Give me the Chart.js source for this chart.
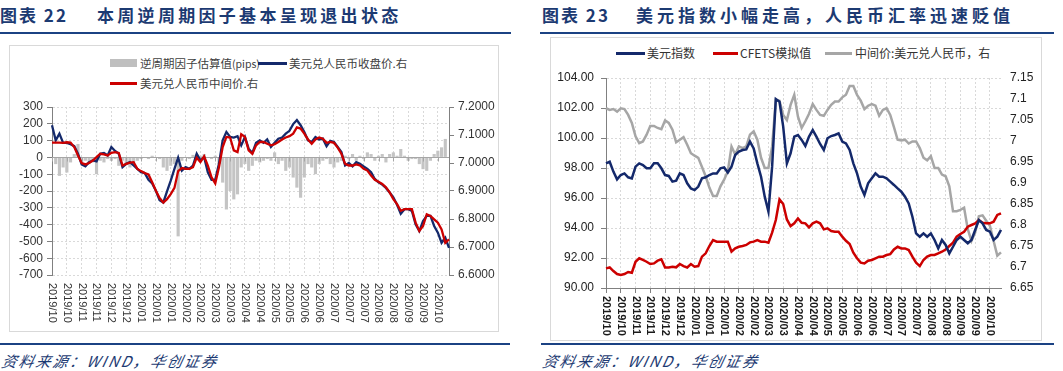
<!DOCTYPE html>
<html><head><meta charset="utf-8">
<script src="https://cdn.jsdelivr.net/npm/chart.js@4/dist/chart.umd.min.js"></script>
<style>
html,body{margin:0;padding:0;background:#fff;width:1063px;height:371px;overflow:hidden;font-family:"Noto Sans CJK SC","Liberation Sans",sans-serif;}
.a{position:absolute;white-space:nowrap;}
.title{font-family:"Noto Sans CJK SC",sans-serif;font-weight:bold;font-size:17px;line-height:20px;color:#1c3a72;}
.rule{background:#1b4283;height:2px;}
.box{border:1px solid #d9d9d9;box-sizing:border-box;}
.src{font-family:"Noto Sans CJK SC",sans-serif;font-style:italic;font-size:15px;line-height:18px;letter-spacing:2px;color:#1c3a72;transform:skewX(-12deg);transform-origin:left bottom;}
.leg{font-size:12px;line-height:16px;color:#404040;}
canvas{position:absolute;}
</style></head>
<body>
<div class="a title" style="left:0;top:5px;letter-spacing:2px;">图表 22</div>
<div class="a title" style="left:97px;top:5px;letter-spacing:3.3px;">本周逆周期因子基本呈现退出状态</div>
<div class="a rule" style="left:0;top:32px;width:511px;"></div>
<div class="a title" style="left:542px;top:5px;letter-spacing:2px;">图表 23</div>
<div class="a title" style="left:636px;top:5px;letter-spacing:4px;">美元指数小幅走高，人民币汇率迅速贬值</div>
<div class="a rule" style="left:540px;top:32px;width:514px;"></div>

<div class="a box" style="left:9px;top:45px;width:490px;height:287px;"></div>
<div class="a box" style="left:550px;top:37px;width:492px;height:304px;"></div>

<div class="a" style="left:110px;top:59px;width:27px;height:8px;background:#bfbfbf;"></div>
<div class="a leg" style="left:140px;top:55px;font-size:11.5px;">逆周期因子估算值<span style="font-size:10.5px;">(pips)</span></div>
<div class="a" style="left:258px;top:62px;width:29px;height:2.5px;background:#14296b;"></div>
<div class="a leg" style="left:289px;top:55px;font-size:11.5px;">美元兑人民币收盘价.右</div>
<div class="a" style="left:110px;top:82px;width:27px;height:2.5px;background:#cc0000;"></div>
<div class="a leg" style="left:140px;top:75px;font-size:11.5px;">美元兑人民币中间价.右</div>

<div class="a" style="left:616px;top:52px;width:29px;height:2.5px;background:#14296b;"></div>
<div class="a leg" style="left:647px;top:45px;color:#333;">美元指数</div>
<div class="a" style="left:713px;top:52px;width:25px;height:2.5px;background:#cc0000;"></div>
<div class="a leg" style="left:740px;top:45px;color:#333;">CFETS模拟值</div>
<div class="a" style="left:825px;top:52px;width:27px;height:2.5px;background:#a6a6a6;"></div>
<div class="a leg" style="left:855px;top:45px;color:#333;">中间价:美元兑人民币，右</div>

<canvas id="c1" width="490" height="287" style="left:9px;top:45px;"></canvas>
<canvas id="c2" width="492" height="304" style="left:550px;top:37px;"></canvas>

<div class="a rule" style="left:0;top:343px;width:510px;"></div>
<div class="a rule" style="left:541px;top:343px;width:513px;"></div>
<div class="a src" style="left:0;top:352px;">资料来源：WIND，华创证券</div>
<div class="a src" style="left:541px;top:352px;">资料来源：WIND，华创证券</div>

<script>
// ---- data ----
const tickLabels = ['2019/10','2019/10','2019/11','2019/11','2019/12','2019/12','2020/01','2020/01','2020/01','2020/02','2020/02','2020/03','2020/03','2020/04','2020/04','2020/05','2020/05','2020/06','2020/06','2020/07','2020/07','2020/07','2020/08','2020/08','2020/09','2020/09','2020/10'];
const pointsPerTick = 4;

// Chart 22
const ccfPips = [0,-40,-110,-60,-90,-30,20,80,-30,-20,
 -40,-30,-100,-20,-30,-10,-20,-10,-50,-20,
 -40,-60,-30,-20,-10,0,-10,10,0,-10,
 -60,-80,-50,-40,-470,-20,0,-10,15,20,
 10,20,0,-10,10,-40,-150,-310,-200,-250,
 -220,-60,-40,-80,-50,-20,-30,-20,-10,-20,
 30,-40,-20,-80,-60,-120,-180,-240,-120,-40,
 -60,-100,-40,-20,-10,-40,-60,-30,-20,10,
 -10,20,-20,10,-10,30,20,-20,10,20,
 -30,20,30,10,50,10,-20,-10,-10,-40,
 -70,-80,-20,20,40,60,110,0];
const usdCnyClose = [7.135,7.081,7.105,7.072,7.072,7.067,7.060,7.033,6.995,6.988,
 7.003,7.009,7.006,7.033,7.036,7.027,7.057,7.043,7.033,6.985,
 6.997,7.003,6.991,6.979,6.967,6.964,6.940,6.927,6.901,6.867,
 6.859,6.899,6.937,6.979,7.019,6.973,6.985,6.979,6.991,7.033,
 7.009,7.021,6.967,6.940,6.940,6.997,7.081,7.111,7.093,7.091,
 7.096,7.063,7.093,7.051,7.036,7.072,7.081,7.072,7.084,7.057,
 7.072,7.087,7.091,7.105,7.115,7.139,7.153,7.135,7.111,7.081,
 7.075,7.093,7.084,7.087,7.060,7.079,7.075,7.057,7.039,6.991,
 7.000,6.988,7.003,6.997,6.988,6.979,6.967,6.943,6.931,6.923,
 6.911,6.895,6.877,6.851,6.819,6.835,6.835,6.829,6.781,6.757,
 6.793,6.811,6.811,6.775,6.751,6.715,6.733,6.697];
const usdCnyMid = [7.073,7.073,7.073,7.072,7.074,7.073,7.057,7.027,7.000,6.995,
 7.000,7.009,7.021,7.033,7.031,7.027,7.036,7.039,7.036,6.991,
 6.997,7.001,7.003,6.979,6.971,6.964,6.959,6.931,6.901,6.875,
 6.859,6.871,6.889,6.911,6.971,6.982,6.979,6.979,6.985,7.019,
 7.003,7.024,6.991,6.949,6.927,6.985,7.057,7.093,7.091,7.045,
 7.039,7.103,7.093,7.045,7.033,7.063,7.075,7.075,7.069,7.063,
 7.067,7.075,7.084,7.091,7.096,7.105,7.127,7.123,7.105,7.084,
 7.069,7.084,7.091,7.087,7.072,7.075,7.072,7.055,7.033,6.997,
 6.991,6.991,6.995,6.991,6.979,6.973,6.955,6.940,6.933,6.925,
 6.913,6.895,6.871,6.853,6.829,6.835,6.835,6.835,6.787,6.757,
 6.775,6.817,6.811,6.799,6.787,6.763,6.715,6.727];

// Chart 23
const dxy = [98.31,98.42,97.76,97.24,97.53,97.64,97.38,97.31,98.09,98.31,
 98.2,97.98,97.98,98.31,98.31,97.98,97.53,97.47,97.09,97.16,
 97.64,97.53,96.98,96.64,96.53,96.76,97.31,97.38,97.53,97.64,
 97.64,97.98,98.04,97.7,98.09,98.87,99.09,99.2,99.24,99.76,
 99.31,98.31,97.42,96.09,95.1,98.09,102.6,102.42,100.76,98.31,
 98.98,100.09,100.2,99.87,99.47,100.09,100.53,100.09,99.6,99.2,
 99.98,100.13,100.2,100.31,99.76,99.64,99.2,98.31,97.64,96.76,
 96.2,96.98,97.31,97.64,97.42,97.42,97.31,97.09,96.87,96.64,
 96.42,96.09,95.64,94.75,93.64,93.42,93.64,93.42,93.64,93.2,
 92.64,93.2,92.87,92.31,92.75,93.2,93.42,93.2,92.98,93.2,
 93.87,94.53,94.31,93.87,93.75,93.2,93.42,93.87];
const cfets = [91.31,91.37,91.13,90.93,90.87,90.93,91.07,91.02,91.75,91.98,
 91.87,91.75,91.6,91.64,91.82,91.91,91.37,91.37,91.42,91.38,
 91.6,91.46,91.37,91.6,91.42,91.46,92.09,92.31,92.8,93.2,
 93.09,93.09,93.09,93.09,92.42,92.64,92.75,92.8,92.87,93.04,
 93.09,93.2,93.09,93.09,93.02,93.69,94.53,95.9,95.6,94.57,
 94.13,94.31,94.64,94.35,94.31,94.04,94.31,94.42,94.31,93.91,
 93.98,93.8,93.75,93.75,93.42,93.15,92.93,92.35,91.98,91.69,
 91.64,91.82,91.87,91.98,92.09,92.09,92.2,92.26,92.57,92.75,
 92.64,92.64,92.53,92.09,91.69,91.46,91.87,92.09,92.2,92.2,
 92.31,92.42,92.57,92.8,93.02,93.42,93.6,93.75,94.09,94.2,
 94.31,94.53,94.35,94.31,94.31,94.42,94.87,94.98];
const midRate = [7.078,7.074,7.076,7.070,7.078,7.076,7.062,7.043,7.011,6.995,
 6.999,7.015,7.036,7.036,7.031,7.028,7.049,7.043,7.027,6.997,
 7.003,7.009,6.991,6.971,6.965,6.960,6.938,6.916,6.889,6.869,
 6.869,6.892,6.908,6.928,6.987,6.968,6.987,6.983,6.987,7.015,
 7.023,7.003,6.960,6.936,6.936,6.987,7.098,7.096,7.062,7.050,
 7.086,7.110,7.058,7.031,7.047,7.065,7.088,7.074,7.062,7.060,
 7.074,7.086,7.094,7.094,7.104,7.110,7.131,7.131,7.110,7.096,
 7.076,7.084,7.088,7.084,7.060,7.074,7.078,7.062,7.033,7.003,
 7.001,7.003,6.994,6.999,6.999,6.983,6.960,6.954,6.964,6.936,
 6.936,6.920,6.916,6.892,6.833,6.833,6.836,6.841,6.790,6.762,
 6.782,6.821,6.823,6.810,6.798,6.762,6.727,6.735];

// category for each point = month label of its tick group
const categories = usdCnyClose.map((_, i) => tickLabels[Math.min(tickLabels.length - 1, Math.floor(i / pointsPerTick))]);

Chart.defaults.font.family = '"Liberation Sans", Arial, sans-serif';

const rotLabels = {
  id: 'rotLabels',
  afterDraw(chart, args, opts) {
    const xs = chart.scales.x, ctx = chart.ctx;
    ctx.save();
    ctx.font = opts.font; ctx.fillStyle = opts.color;
    ctx.textAlign = 'left'; ctx.textBaseline = 'middle';
    tickLabels.forEach((lab, k) => {
      const x = xs.getPixelForValue(k * pointsPerTick);
      ctx.save(); ctx.translate(x, chart.chartArea.bottom + opts.gap); ctx.rotate(Math.PI / 2);
      ctx.fillText(lab, 0, 0); ctx.restore();
    });
    ctx.restore();
  }
};
const zeroLine = {
  id: 'zeroLine',
  afterDatasetDraw(chart, args) {
    if (args.index !== 0) return;
    const ctx = chart.ctx, a = chart.chartArea, xs = chart.scales.x;
    const y = Math.round(chart.scales.y.getPixelForValue(0)) + 0.5;
    ctx.save(); ctx.strokeStyle = '#a6a6a6'; ctx.lineWidth = 1; ctx.beginPath();
    ctx.moveTo(a.left, y); ctx.lineTo(a.right, y);
    tickLabels.forEach((_, k) => { const x = Math.round(xs.getPixelForValue(k * pointsPerTick)) + 0.5; ctx.moveTo(x, y); ctx.lineTo(x, y + 4); });
    ctx.stroke(); ctx.restore();
  }
};
const gridCol = c => (c.index % pointsPerTick === 0 ? '#d9d9d9' : 'rgba(0,0,0,0)');

new Chart(document.getElementById('c1'), {
  type: 'bar',
  data: {
    labels: categories,
    datasets: [
      { type: 'bar', label: '逆周期因子估算值(pips)', data: ccfPips, yAxisID: 'y', backgroundColor: '#c4c4c4', borderWidth: 0, barPercentage: 1, categoryPercentage: 0.85, order: 3 },
      { type: 'line', label: '美元兑人民币收盘价.右', data: usdCnyClose, yAxisID: 'y1', borderColor: '#14296b', borderWidth: 2.3, pointRadius: 0, tension: 0, order: 2 },
      { type: 'line', label: '美元兑人民币中间价.右', data: usdCnyMid, yAxisID: 'y1', borderColor: '#cc0000', borderWidth: 2.3, pointRadius: 0, tension: 0, order: 1 }
    ]
  },
  options: {
    responsive: false, animation: false, devicePixelRatio: 1,
    layout: { padding: { top: 62, left: 0, right: 0, bottom: 0 } },
    plugins: { legend: { display: false }, tooltip: { enabled: false },
      rotLabels: { font: '11px "Liberation Sans", Arial, sans-serif', color: '#333', gap: 8 } },
    scales: {
      x: { offset: false, grid: { offset: false, color: gridCol, drawTicks: false }, border: { display: false, dash: [2, 2] },
           ticks: { display: false, autoSkip: false }, afterFit: s => { s.height = 57; } },
      y: { position: 'left', min: -700, max: 300, ticks: { stepSize: 100, autoSkip: false, color: '#333', font: { size: 12 }, padding: 4 },
           grid: { color: '#d9d9d9', tickColor: '#808080', tickLength: 5 }, border: { color: '#808080', dash: [2, 2] },
           afterFit: s => { s.width = 43; } },
      y1: { position: 'right', min: 6.6, max: 7.2, ticks: { stepSize: 0.1, autoSkip: false, color: '#333', font: { size: 12 }, padding: 4, callback: v => Number(v).toFixed(4) },
           grid: { drawOnChartArea: false, tickColor: '#808080', tickLength: 5 }, border: { color: '#808080' },
           afterFit: s => { s.width = 50; } }
    }
  },
  plugins: [rotLabels, zeroLine]
});

new Chart(document.getElementById('c2'), {
  type: 'line',
  data: {
    labels: categories,
    datasets: [
      { label: '美元指数', data: dxy, yAxisID: 'y', borderColor: '#14296b', borderWidth: 2.5, pointRadius: 0, tension: 0, order: 1 },
      { label: 'CFETS模拟值', data: cfets, yAxisID: 'y', borderColor: '#cc0000', borderWidth: 2.5, pointRadius: 0, tension: 0, order: 2 },
      { label: '中间价:美元兑人民币，右', data: midRate, yAxisID: 'y1', borderColor: '#a6a6a6', borderWidth: 2.5, pointRadius: 0, tension: 0, order: 3 }
    ]
  },
  options: {
    responsive: false, animation: false, devicePixelRatio: 1,
    layout: { padding: { top: 41, left: 0, right: 0, bottom: 0 } },
    plugins: { legend: { display: false }, tooltip: { enabled: false },
      rotLabels: { font: 'bold 11px "Liberation Sans", Arial, sans-serif', color: '#1a1a1a', gap: 8 } },
    scales: {
      x: { offset: false, grid: { offset: false, color: gridCol, tickColor: c => (c.index % pointsPerTick === 0 ? '#808080' : 'rgba(0,0,0,0)'), tickLength: 5 },
           border: { display: true, color: '#808080', dash: [2, 2] },
           ticks: { display: false, autoSkip: false }, afterFit: s => { s.height = 53; } },
      y: { position: 'left', min: 90, max: 104, ticks: { stepSize: 2, autoSkip: false, color: '#222', font: { size: 12 }, padding: 7, callback: v => Number(v).toFixed(2) },
           grid: { color: '#d9d9d9', tickColor: '#808080', tickLength: 5 }, border: { color: '#808080', dash: [2, 2] },
           afterFit: s => { s.width = 56; } },
      y1: { position: 'right', min: 6.65, max: 7.15, ticks: { stepSize: 0.05, autoSkip: false, color: '#222', font: { size: 12 }, padding: 9, callback: v => String(parseFloat(Number(v).toFixed(2))) },
           grid: { drawOnChartArea: false, drawTicks: false }, border: { display: false },
           afterFit: s => { s.width = 41; } }
    }
  },
  plugins: [rotLabels]
});
</script>
</body></html>
